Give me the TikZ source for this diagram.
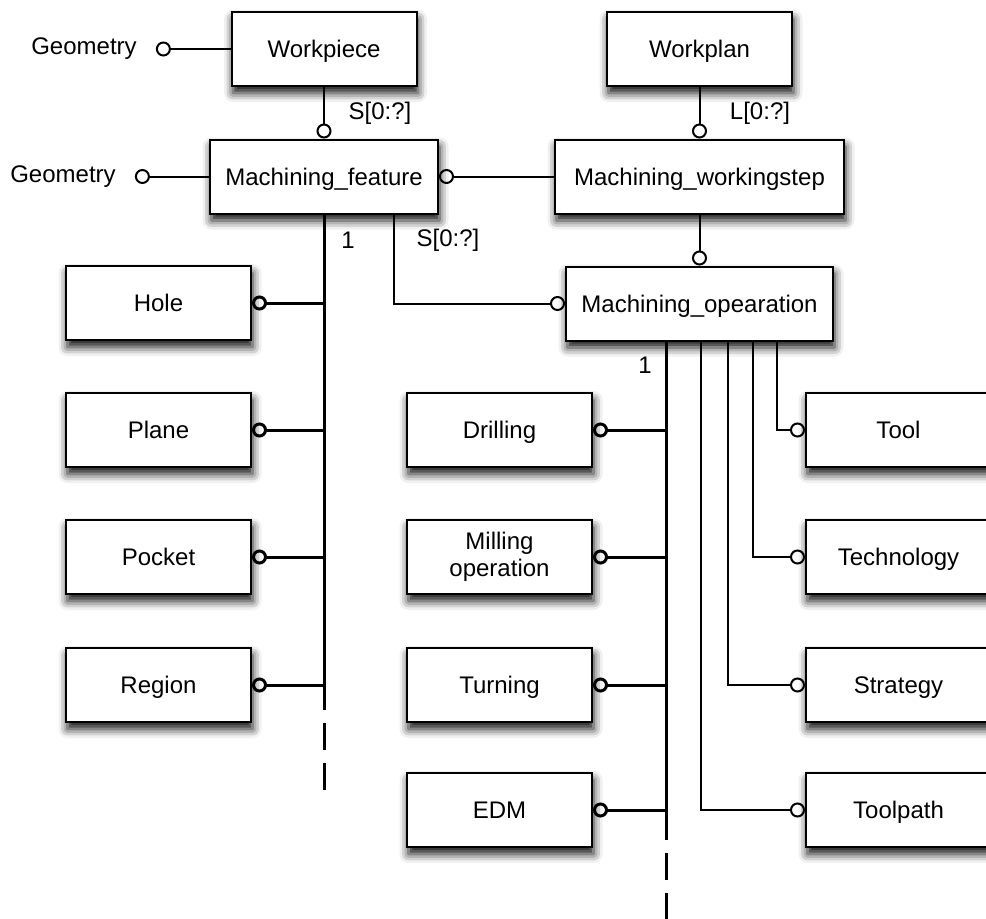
\documentclass[tikz,border=0pt]{standalone}
\usepackage{fontspec}
\setmainfont{Liberation Sans}
\usetikzlibrary{arrows.meta,shadows.blur}

\begin{document}
\begin{tikzpicture}[x=1pt,y=-1pt,
  font=\fontsize{24}{27}\selectfont,
  ent/.style={draw,line width=2pt,fill=white,minimum width=185pt,
    minimum height=74pt,inner sep=0pt,align=center,
    text height=22pt,text depth=4.8pt,
    blur shadow={shadow xshift=1.5pt,shadow yshift=-7pt,
      shadow blur radius=9pt,shadow opacity=95}},
  lbl/.style={inner sep=0pt},
  thin/.style={line width=2pt},
  thick/.style={line width=3pt},
  ringend/.style={-{Circle[open,length=15pt,width=15pt]}},
  ringstart/.style={{Circle[open,length=15pt,width=15pt]}-},
  gapdash/.style={dash pattern=on 27pt off 13pt,dash phase=27pt}]

\clip (0,0) rectangle (986,919);

% entities
\node[ent] (piece) at (324,49) {Workpiece};
\node[ent] (plan) at (699.5,49) {Workplan};
\node[ent,minimum width=228pt] (feat) at (324,176.5) {Machining\_feature};
\node[ent,minimum width=289pt] (step) at (699.5,176.5) {Machining\_workingstep};
\node[ent,minimum width=267pt] (op) at (699.5,303.5) {Machining\_opearation};

\foreach \n/\t/\y in {hole/Hole/303,plane/Plane/430,pocket/Pocket/557,region/Region/685}
  \node[ent] (\n) at (158.5,\y) {\t};

\foreach \n/\t/\y in {drill/Drilling/430,turn/Turning/685,edm/EDM/810}
  \node[ent] (\n) at (499.5,\y) {\t};
\node[ent,text height=,text depth=] (mill) at (499.5,557) {Milling\\operation};

\foreach \n/\t/\y in {tool/Tool/430,tech/Technology/557,strat/Strategy/685,path/Toolpath/810}
  \node[ent] (\n) at (898.5,\y) {\t};

% geometry attributes
\node[lbl] (geo1) at (84,49) {Geometry};
\node[lbl] (geo2) at (63,176.5) {Geometry};
\draw[thin,ringstart] ([xshift=19pt]geo1.east) -- (piece.west);
\draw[thin,ringstart] ([xshift=19pt]geo2.east) -- (feat.west);

% upper links
\draw[thin,ringend] (piece.south) -- (feat.north);
\draw[thin,ringend] (plan.south) -- (step.north);
\draw[thin,ringend] (step.south) -- (op.north);
\draw[thin,ringstart] (feat.east) -- (step.west);
\draw[thin,ringend] ([xshift=70pt]feat.south) |- (op.west);

\node[lbl] (s1) at (380,113) {S[0:?]};
\node[lbl] (l1) at (760,113) {L[0:?]};
\node[lbl] (one1) at (348,240) {1};
\node[lbl] (s2) at (448,240) {S[0:?]};
\node[lbl] (one2) at (645,365) {1};

% feature subtypes
\coordinate (fcut) at (324,710);
\coordinate (fend) at (324,790);
\draw[thick] (feat.south) -- (fcut);
\draw[thick,gapdash] (fcut) -- (fend);
\foreach \n in {hole,plane,pocket,region}
  \draw[thick,ringend] (feat.south |- \n) -- (\n.east);

% operation subtypes
\coordinate (otop) at ([xshift=-33.5pt]op.south);
\coordinate (ocut) at (666,840);
\coordinate (oend) at (666,925);
\draw[thick] (otop) -- (ocut);
\draw[thick,gapdash] (ocut) -- (oend);
\foreach \n in {drill,mill,turn,edm}
  \draw[thick,ringend] (otop |- \n) -- (\n.east);

% operation attributes
\foreach \n/\dx in {tool/77.5,tech/53.5,strat/28.5,path/1.5}
  \draw[thin,ringend] ([xshift=\dx pt]op.south) |- (\n.west);

\end{tikzpicture}
\end{document}
